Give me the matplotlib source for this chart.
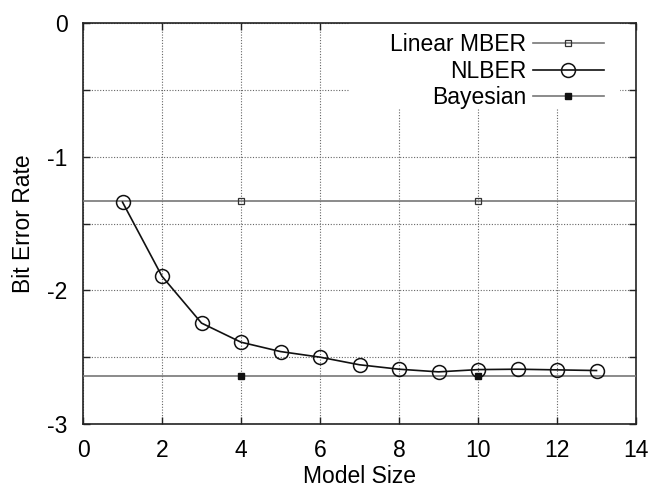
import matplotlib
matplotlib.use("Agg")
import matplotlib.pyplot as plt
from matplotlib.lines import Line2D
from matplotlib.patches import Rectangle

plt.rcParams['font.family'] = ['Liberation Sans', 'DejaVu Sans']
plt.rcParams['font.size'] = 16.5

# Data
model_size = [1, 2, 3, 4, 5, 6, 7, 8, 9, 10, 11, 12, 13]
nlber = [-1.34, -1.895, -2.245, -2.388, -2.458, -2.50, -2.557, -2.59, -2.61,
         -2.593, -2.59, -2.595, -2.60]
mber_x = [0, 4, 10, 14]
mber_y = [-1.333, -1.333, -1.333, -1.333]
bayes_x = [0, 4, 10, 14]
bayes_y = [-2.642, -2.642, -2.642, -2.642]

x_ticks = [0, 2, 4, 6, 8, 10, 12, 14]
y_ticks = [-3, -2, -1, 0]
y_minor = [-2.5, -1.5, -0.5]

W, H = 650, 492
fig = plt.figure(figsize=(W / 100, H / 100), dpi=100)
L, R, T, B = 83, 636, 23, 424
ax = fig.add_axes([L / W, 1 - B / H, (R - L) / W, (B - T) / H])

ax.set_xlim(0, 14)
ax.set_ylim(-3, 0)
ax.set_xticks(x_ticks)
ax.set_yticks(y_ticks)
ax.set_yticks(y_minor, minor=True)
ax.set_yticklabels([str(v) for v in y_ticks])

ax.set_axisbelow(True)
ax.grid(True, which='both', linestyle=(0, (1, 1.5)), color='#666666', lw=0.8)

ax.tick_params(which='both', direction='in', length=5, width=1.0,
               top=True, right=True, color='#222222')
ax.tick_params(axis='y', pad=11)
ax.tick_params(axis='x', pad=11)
for s in ax.spines.values():
    s.set_linewidth(1.2)
    s.set_color('#222222')

# mask behind legend (gnuplot-style opaque key)
ax.add_patch(Rectangle((0.483, 0.788), 0.971 - 0.483, 1 - 0.788,
                       transform=ax.transAxes, facecolor='white',
                       edgecolor='none', zorder=1))

gray = '#777777'
ax.plot(mber_x, mber_y, color=gray, lw=1.2, marker='s', markevery=[1, 2],
        markersize=5, markerfacecolor='none', markeredgecolor='#333333',
        markeredgewidth=0.9, zorder=3)
ax.plot(bayes_x, bayes_y, color=gray, lw=1.2, marker='s', markevery=[1, 2],
        markersize=5, markerfacecolor='#111111', markeredgecolor='#111111',
        zorder=3)
ax.plot(model_size, nlber, color='#111111', lw=1.2, marker='o',
        markersize=10, markerfacecolor='none', markeredgecolor='#111111',
        markeredgewidth=1.1, zorder=4)

handles = [
    Line2D([], [], color=gray, lw=1.2, marker='s', markersize=5,
           markerfacecolor='none', markeredgecolor='#333333', markeredgewidth=0.9),
    Line2D([], [], color='#111111', lw=1.2, marker='o', markersize=10,
           markerfacecolor='none', markeredgecolor='#111111', markeredgewidth=1.1),
    Line2D([], [], color=gray, lw=1.2, marker='s', markersize=5,
           markerfacecolor='#111111', markeredgecolor='#111111'),
]
labels = ['Linear MBER', 'NLBER', 'Bayesian']
ax.legend(handles, labels, loc='upper right',
          bbox_to_anchor=((604 - L) / (R - L), (B - 33) / (B - T)),
          frameon=False, markerfirst=False, numpoints=1,
          handlelength=3.1, handletextpad=0.3, labelspacing=0.16,
          borderpad=0, borderaxespad=0)

ax.set_xlabel('Model Size', labelpad=2)
ax.set_ylabel('Bit Error Rate', labelpad=9)

fig.savefig('out.png', dpi=100)
